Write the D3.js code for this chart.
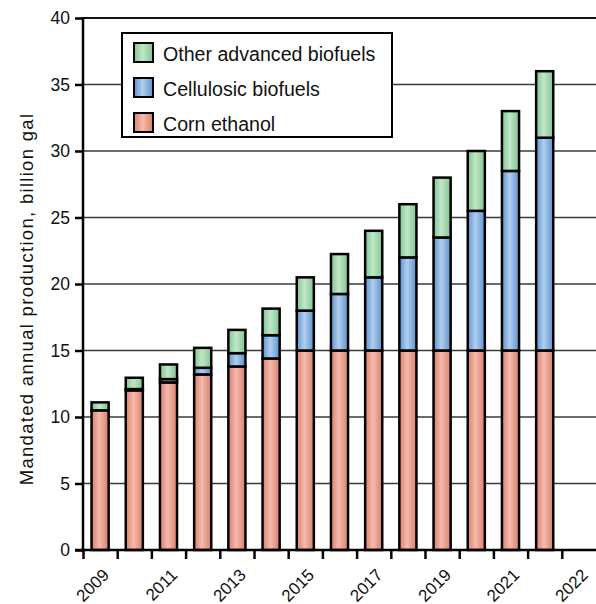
<!DOCTYPE html>
<html>
<head>
<meta charset="utf-8">
<script src="https://cdn.jsdelivr.net/npm/d3@7/dist/d3.min.js"></script>
<style>
  html, body { margin: 0; padding: 0; background: #fff; }
  svg { display: block; font-family: "Liberation Sans", Arial, Helvetica, sans-serif; }
</style>
</head>
<body>
<svg id="chart" width="596" height="604"></svg>
<script>
// ---- Data (billion gallons) ----
const years = [2009, 2010, 2011, 2012, 2013, 2014, 2015, 2016, 2017, 2018, 2019, 2020, 2021, 2022];
const cornEthanol = [10.5, 12.0, 12.6, 13.2, 13.8, 14.4, 15.0, 15.0, 15.0, 15.0, 15.0, 15.0, 15.0, 15.0];
const cellulosic = [0, 0.1, 0.25, 0.5, 1.0, 1.75, 3.0, 4.25, 5.5, 7.0, 8.5, 10.5, 13.5, 16.0];
const otherAdvanced = [0.6, 0.85, 1.1, 1.5, 1.75, 2.0, 2.5, 3.0, 3.5, 4.0, 4.5, 4.5, 4.5, 5.0];
const seriesNames = ["Corn ethanol", "Cellulosic biofuels", "Other advanced biofuels"];
const xTickLabels = ["2009", "", "2011", "", "2013", "", "2015", "", "2017", "", "2019", "", "2021", "", "2022"];
const yTicks = [0, 5, 10, 15, 20, 25, 30, 35, 40];
const yTitle = "Mandated annual production, billion gal";

(function () {
const colors = {
  "Corn ethanol": { edge: "#d9806e", mid: "#f6baab" },
  "Cellulosic biofuels": { edge: "#5f91cb", mid: "#b0cff0" },
  "Other advanced biofuels": { edge: "#80c590", mid: "#c2e6c9" }
};

const svg = d3.select("#chart");
const mLeft = 83, mRight = 596, mTop = 18, mBottom = 550;

const y = d3.scaleLinear().domain([0, 40]).range([mBottom, mTop]);
const slots = d3.scaleBand().domain(d3.range(xTickLabels.length)).range([mLeft, mRight]);
const xl = d3.scaleLinear().domain([0, xTickLabels.length]).range([mLeft, mRight]);

// gradients
const defs = svg.append("defs");
seriesNames.forEach((name, i) => {
  const g = defs.append("linearGradient").attr("id", "grad" + i)
    .attr("x1", "0%").attr("x2", "100%").attr("y1", "0%").attr("y2", "0%");
  g.append("stop").attr("offset", "0%").attr("stop-color", colors[name].edge);
  g.append("stop").attr("offset", "45%").attr("stop-color", colors[name].mid);
  g.append("stop").attr("offset", "100%").attr("stop-color", colors[name].edge);
});

// gridlines
svg.append("g").selectAll("line").data(yTicks.filter(d => d > 0)).join("line")
  .attr("x1", mLeft).attr("x2", mRight)
  .attr("y1", d => y(d)).attr("y2", d => y(d))
  .attr("stroke", d => d === 40 ? "#111" : "#3a3a3a")
  .attr("stroke-width", d => d === 40 ? 2 : 1.4);

// stacked bars
const table = years.map((yr, i) => ({
  idx: i,
  "Corn ethanol": cornEthanol[i],
  "Cellulosic biofuels": cellulosic[i],
  "Other advanced biofuels": otherAdvanced[i]
}));
const stacked = d3.stack().keys(seriesNames)(table);
const bw = slots.bandwidth() * 0.5;
stacked.forEach((layer, si) => {
  svg.append("g").selectAll("rect").data(layer.filter(d => d[1] - d[0] > 0)).join("rect")
    .attr("x", d => slots(d.data.idx) + slots.bandwidth() * 0.25)
    .attr("width", bw)
    .attr("y", d => y(d[1]))
    .attr("height", d => y(d[0]) - y(d[1]))
    .attr("fill", "url(#grad" + si + ")")
    .attr("stroke", "#000")
    .attr("stroke-width", 2.5);
});

// x axis
const xAxis = d3.axisBottom(xl).tickValues(d3.range(xTickLabels.length)).tickSize(9).tickFormat("");
const gx = svg.append("g").attr("transform", `translate(0,${mBottom})`).call(xAxis);
gx.select(".domain").remove();
gx.selectAll(".tick line").attr("stroke", "#000").attr("stroke-width", 2.5);
svg.append("line").attr("x1", mLeft - 8).attr("x2", mRight).attr("y1", mBottom).attr("y2", mBottom)
  .attr("stroke", "#000").attr("stroke-width", 2.5);
svg.append("g").selectAll("text").data(xTickLabels.map((t, i) => ({ t, i })).filter(d => d.t)).join("text")
  .attr("transform", d => `translate(${slots(d.i) + slots.bandwidth() / 2 + 10},576) rotate(-45)`)
  .attr("text-anchor", "end")
  .attr("font-size", 17)
  .attr("fill", "#111")
  .text(d => d.t);

// y axis
const yAxis = d3.axisLeft(y).tickValues(yTicks).tickSize(8).tickPadding(5).tickFormat(d3.format("d"));
const gy = svg.append("g").attr("transform", `translate(${mLeft},0)`).call(yAxis);
gy.select(".domain").remove();
gy.selectAll(".tick line").attr("stroke", "#000").attr("stroke-width", 2.5);
gy.selectAll(".tick text").attr("font-size", 17.5).attr("fill", "#111")
  .attr("font-family", "Liberation Sans, Arial, sans-serif");
svg.append("line").attr("x1", mLeft).attr("x2", mLeft).attr("y1", mTop - 1).attr("y2", mBottom + 1)
  .attr("stroke", "#000").attr("stroke-width", 2.5);

// y title
svg.append("text")
  .attr("transform", `translate(33,299) rotate(-90)`)
  .attr("text-anchor", "middle")
  .attr("font-size", 18.5)
  .attr("letter-spacing", 1.3)
  .attr("fill", "#111")
  .text(yTitle);

// legend
const lg = svg.append("g");
lg.append("rect").attr("x", 122).attr("y", 33).attr("width", 270).attr("height", 104)
  .attr("fill", "#fff").attr("stroke", "#000").attr("stroke-width", 2);
const legendOrder = ["Other advanced biofuels", "Cellulosic biofuels", "Corn ethanol"];
const row = lg.selectAll("g.row").data(legendOrder).join("g").attr("class", "row")
  .attr("transform", (d, i) => `translate(134,${43 + i * 35})`);
row.append("rect").attr("width", 19).attr("height", 19)
  .attr("fill", d => "url(#grad" + seriesNames.indexOf(d) + ")")
  .attr("stroke", "#000").attr("stroke-width", 2);
row.append("text").attr("x", 29).attr("y", 18).attr("font-size", 19.6).attr("fill", "#111")
  .text(d => d);
})();
</script>
</body>
</html>
